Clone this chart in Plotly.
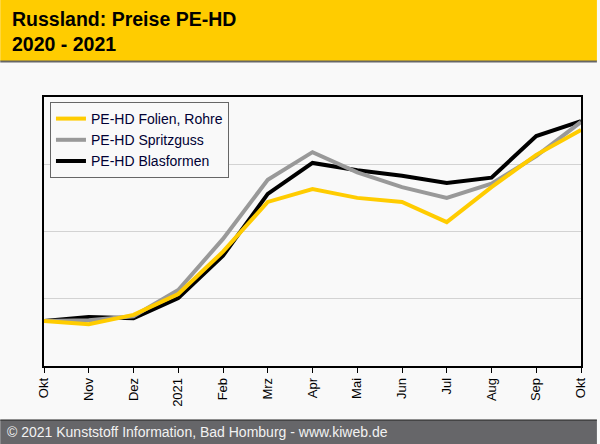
import plotly.graph_objects as go

months = ["Okt", "Nov", "Dez", "2021", "Feb", "Mrz", "Apr", "Mai", "Jun", "Jul", "Aug", "Sep", "Okt"]
folien_rohre = [67, 62, 76, 107, 170, 244, 263, 250, 244, 214, 266, 314, 351]
spritzguss = [67, 68, 74, 113, 189, 277, 318, 288, 266, 250, 271, 312, 363]
blasformen = [67, 73, 71, 101, 164, 256, 302, 291, 283, 272, 280, 342, 364]

x = list(range(len(months)))
FONT = "Liberation Sans, Arial, sans-serif"
BG = "#f9f9f9"

fig = go.Figure()
fig.add_trace(go.Scatter(x=x, y=blasformen, mode="lines", name="PE-HD Blasformen",
                         line=dict(color="#000000", width=4)))
fig.add_trace(go.Scatter(x=x, y=spritzguss, mode="lines", name="PE-HD Spritzguss",
                         line=dict(color="#999999", width=4)))
fig.add_trace(go.Scatter(x=x, y=folien_rohre, mode="lines", name="PE-HD Folien, Rohre",
                         line=dict(color="#ffcc00", width=4)))

L, R, T, B = 44, 16, 97, 78
W, H = 600, 444
pw, ph = W - L - R, H - T - B

def px_x(p):
    return (p - L) / pw

def px_y(p):
    return (H - B - p) / ph

shapes = [
    dict(type="rect", xref="paper", yref="paper", x0=px_x(0), x1=px_x(W), y0=px_y(61), y1=px_y(0),
         fillcolor="#ffcc00", line=dict(width=0), layer="below"),
    dict(type="line", xref="paper", yref="paper", x0=px_x(0), x1=px_x(W), y0=px_y(61.5), y1=px_y(61.5),
         line=dict(color="#666666", width=2)),
    dict(type="rect", xref="paper", yref="paper", x0=px_x(0), x1=px_x(W), y0=px_y(H), y1=px_y(420),
         fillcolor="#666669", line=dict(width=0), layer="below"),
    dict(type="line", xref="paper", yref="paper", x0=px_x(0), x1=px_x(W), y0=px_y(420), y1=px_y(420),
         line=dict(color="#222222", width=1)),
]

annotations = [
    dict(text="<b>Russland: Preise PE-HD</b>", xref="paper", yref="paper", x=px_x(10), y=px_y(19),
         xanchor="left", yanchor="middle", showarrow=False, font=dict(family=FONT, size=19.5, color="#000")),
    dict(text="<b>2020 - 2021</b>", xref="paper", yref="paper", x=px_x(10), y=px_y(44),
         xanchor="left", yanchor="middle", showarrow=False, font=dict(family=FONT, size=19.5, color="#000")),
    dict(text="© 2021 Kunststoff Information, Bad Homburg - www.kiweb.de", xref="paper", yref="paper",
         x=px_x(5), y=px_y(432), xanchor="left", yanchor="middle", showarrow=False,
         font=dict(family=FONT, size=14, color="#f2f2f2")),
]

fig.update_layout(
    width=W, height=H,
    margin=dict(l=L, r=R, t=T, b=B, pad=0),
    paper_bgcolor=BG, plot_bgcolor=BG,
    font=dict(family=FONT, size=13, color="#000"),
    shapes=shapes, annotations=annotations,
    showlegend=True,
    legend=dict(x=px_x(50), y=px_y(102), xanchor="left", yanchor="top",
                traceorder="reversed", bgcolor=BG, bordercolor="#666666", borderwidth=1,
                font=dict(family=FONT, size=14, color="#000033"), tracegroupgap=0,
                itemwidth=30),
)
fig.update_xaxes(range=[0, 12], tickmode="array", tickvals=x, ticktext=months, tickangle=-90,
                 showgrid=False, showline=True, linecolor="#000", linewidth=1.5, mirror=True,
                 ticks="outside", ticklen=5, tickcolor="#000", zeroline=False,
                 tickfont=dict(family=FONT, size=13, color="#000"))
fig.update_yaxes(range=[0, 400], tickvals=[100, 200, 300], showticklabels=False,
                 showgrid=True, gridcolor="#d3d3d3", gridwidth=1, showline=True, linecolor="#000",
                 linewidth=1.5, mirror=True, ticks="", zeroline=False)

fig.write_html("out.html", config={"displayModeBar": False},
               post_script="document.body.style.margin='0';document.body.style.padding='0';document.body.style.overflow='hidden';")
